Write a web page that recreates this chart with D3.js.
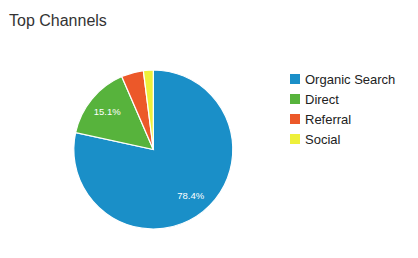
<!DOCTYPE html>
<html>
<head>
<meta charset="utf-8">
<script src="https://cdn.jsdelivr.net/npm/d3@7"></script>
<style>
	body { margin: 0; background: #fff; }
</style>
</head>
<body>
<div id="chart"></div>
<script>
// Data
var channels = ["Organic Search", "Direct", "Referral", "Social"];
var shares = [78.4, 15.1, 4.5, 2.0];
var colors = ["#1a8fc8", "#57b33c", "#ec5829", "#eef03a"];

var w = 418;
var h = 258;
var cx = 153.3, cy = 149.5, r = 79.5;
var font = "'Liberation Sans', Arimo, Arial, Helvetica, sans-serif";

var svg = d3.select("#chart")
			.append("svg")
			.attr("width", w)
			.attr("height", h)
			.attr("font-family", font);

svg.append("text")
	.attr("x", 9)
	.attr("y", 26)
	.attr("font-family", font)
	.attr("font-size", 16)
	.attr("fill", "#333")
	.text("Top Channels");

var color = d3.scaleOrdinal().domain(channels).range(colors);

var pie = d3.pie().sort(null).value(function(d) { return d.v; });
var rows = channels.map(function(c, i) { return {name: c, v: shares[i]}; });
var arcs = pie(rows);

var arc = d3.arc().innerRadius(0).outerRadius(r);
var labelArc = d3.arc().innerRadius(r * 0.75).outerRadius(r * 0.75);

var g = svg.append("g").attr("transform", "translate(" + cx + "," + cy + ")");

g.selectAll("path")
	.data(arcs)
	.enter()
	.append("path")
	.attr("d", arc)
	.attr("fill", function(d) { return color(d.data.name); })
	.attr("stroke", "#fff")
	.attr("stroke-width", 1.2);

// only slices big enough get a label
g.selectAll("text")
	.data(arcs.filter(function(d) { return d.data.v > 10; }))
	.enter()
	.append("text")
	.attr("transform", function(d) { return "translate(" + labelArc.centroid(d) + ")"; })
	.attr("dy", "0.35em")
	.attr("text-anchor", "middle")
	.attr("font-family", font)
	.attr("font-size", 9.5)
	.attr("fill", "#fff")
	.text(function(d) { return d.data.v.toFixed(1) + "%"; });

// Legend
var legend = svg.selectAll(".legend")
	.data(channels)
	.enter()
	.append("g")
	.attr("class", "legend")
	.attr("transform", function(d, i) { return "translate(290," + (74 + i * 20) + ")"; });

legend.append("rect")
	.attr("width", 10)
	.attr("height", 10)
	.attr("fill", function(d) { return color(d); });

legend.append("text")
	.attr("x", 15)
	.attr("y", 5)
	.attr("dy", "0.35em")
	.attr("font-family", font)
	.attr("font-size", 13)
	.attr("fill", "#222")
	.text(function(d) { return d; });
</script>
</body>
</html>
